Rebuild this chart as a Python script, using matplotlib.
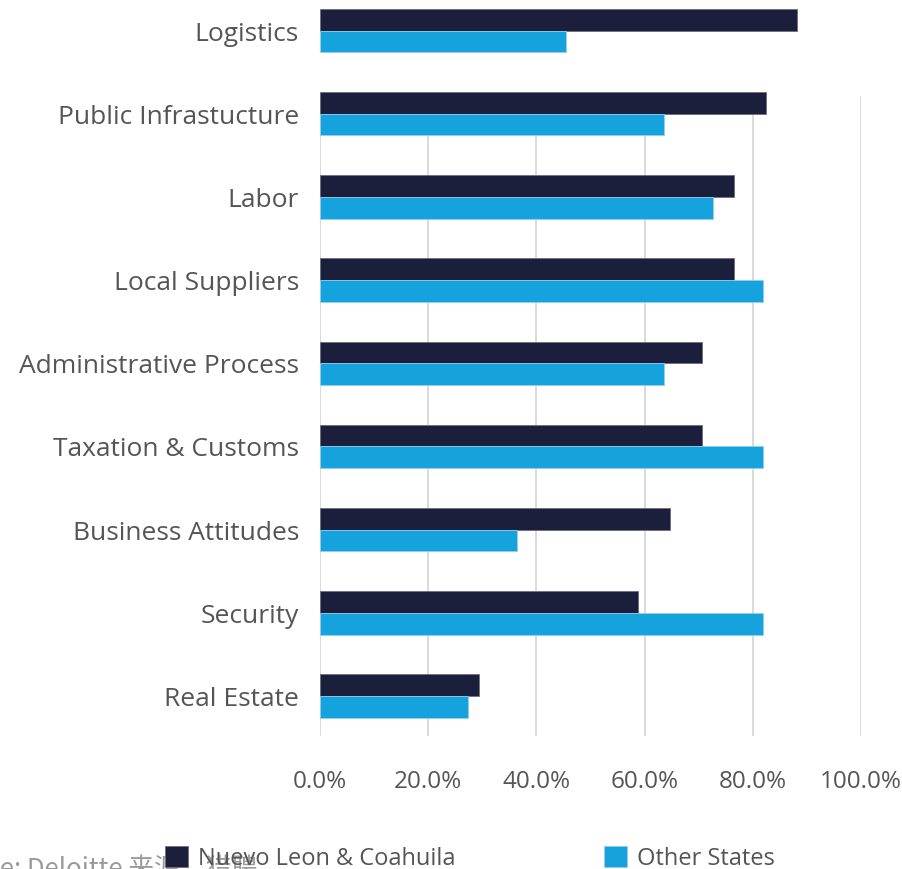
import matplotlib
matplotlib.use("Agg")
import matplotlib.pyplot as plt
from matplotlib.transforms import blended_transform_factory

# survey share by factor, top to bottom
categories = [
    "Logistics", "Public Infrastucture", "Labor", "Local Suppliers",
    "Administrative Process", "Taxation & Customs", "Business Attitudes",
    "Security", "Real Estate",
]
nuevo_leon = [88.2, 82.4, 76.5, 76.5, 70.6, 70.6, 64.7, 58.8, 29.4]
other_states = [45.5, 63.6, 72.7, 81.8, 63.6, 81.8, 36.4, 81.8, 27.3]
series_names = ["Nuevo Leon & Coahuila", "Other States"]
xticks = [0, 20, 40, 60, 80, 100]

DARK = "#1b1f3b"
BLUE = "#16a2dc"
TEXT = "#555555"

plt.rcParams["font.family"] = ["Open Sans", "DejaVu Sans"]

W, H = 903, 870
fig = plt.figure(figsize=(W / 100, H / 100), dpi=100)
fig.patch.set_facecolor("white")

# plot box in pixels: x 320..861, y 97..737
ax = fig.add_axes([320 / W, 1 - 737 / H, 541 / W, 640 / H])
ax.set_xlim(0, 100)
ax.set_ylim(8.48, 0.787)

bar_h = 0.26
ys = list(range(len(categories)))
b1 = ax.barh([y - bar_h / 2 for y in ys], nuevo_leon, height=bar_h,
             color=DARK, edgecolor="#6b6e80", linewidth=0.6, clip_on=False, zorder=3)
b2 = ax.barh([y + bar_h / 2 for y in ys], other_states, height=bar_h,
             color=BLUE, edgecolor="#8fd0ee", linewidth=0.6, clip_on=False, zorder=3)

for s in ax.spines.values():
    s.set_visible(False)
ax.set_yticks([])
ax.set_xticks(xticks)
ax.set_xticklabels([f"{v:.1f}%" for v in xticks], fontsize=17.5, color=TEXT)
ax.tick_params(axis="x", length=0, pad=24)
ax.grid(axis="x", color="#d4d4d4", linewidth=1.2, zorder=0)
ax.set_axisbelow(True)

# category names sit left of the plot box
tr = blended_transform_factory(ax.transAxes, ax.transData)
for y, name in zip(ys, categories):
    ax.text(-21 / 541, y + 0.03, name, transform=tr, ha="right", va="center",
            fontsize=19, color=TEXT, clip_on=False)

fig.legend([b1, b2], series_names, loc="center left",
           bbox_to_anchor=(153 / W, 1 - 859 / H), ncol=2, frameon=False,
           labelcolor=TEXT, handlelength=1.0, handleheight=1.0,
           handletextpad=0.4, columnspacing=6.28, borderpad=0,
           prop={"size": 17})

# source line runs off the left and bottom edges
fig.text(-70 / W, -6 / H, "Source: Deloitte 来源：猎聘", fontsize=18.5,
         color="#9a9a9a", ha="left", va="baseline",
         family=["Noto Sans CJK SC", "DejaVu Sans"], zorder=0)

fig.savefig("out.png", dpi=100, facecolor="white")
